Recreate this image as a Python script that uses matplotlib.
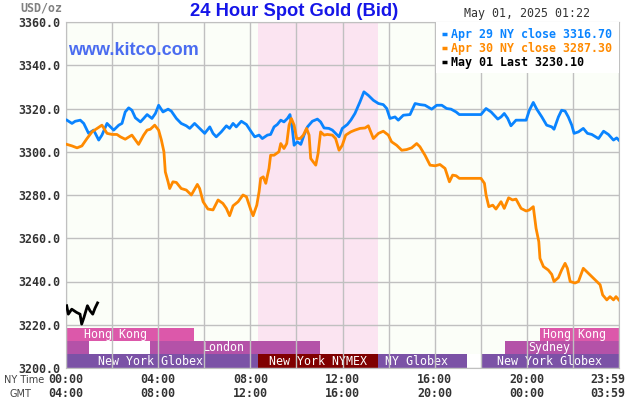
import matplotlib
matplotlib.use("Agg")
import matplotlib.pyplot as plt

# --- data (hours since 00:00 NY time, price in USD/oz) ---
apr29_hours = [0.04, 0.26, 0.40, 0.62, 0.77, 0.98, 1.20, 1.42, 1.56, 1.78, 2.07, 2.29, 2.43, 2.57,
               2.72, 2.86, 3.01, 3.23, 3.37, 3.52, 3.73, 3.88, 4.02, 4.21, 4.43, 4.57, 4.79, 5.00,
               5.22, 5.37, 5.58, 5.80, 6.02, 6.24, 6.38, 6.52, 6.74, 6.96, 7.10, 7.25, 7.39, 7.61,
               7.83, 8.04, 8.19, 8.38, 8.52, 8.74, 8.88, 9.03, 9.17, 9.32, 9.46, 9.61, 9.72, 9.82,
               9.90, 10.04, 10.19, 10.33, 10.48, 10.69, 10.91, 11.05, 11.20, 11.41, 11.56, 11.70,
               11.85, 11.99, 12.21, 12.36, 12.54, 12.76, 12.93, 13.12, 13.34, 13.56, 13.77, 13.92,
               14.06, 14.28, 14.42, 14.64, 14.93, 15.15, 15.36, 15.58, 15.87, 16.09, 16.31, 16.52,
               16.71, 16.93, 17.07, 18.01, 18.23, 18.45, 18.74, 18.88, 19.02, 19.17, 19.31, 19.53,
               19.75, 19.97, 20.11, 20.28, 20.43, 20.65, 20.86, 21.08, 21.18, 21.37, 21.51, 21.66,
               21.80, 21.95, 22.05, 22.24, 22.45, 22.63, 22.82, 23.11, 23.33, 23.54, 23.76, 23.90,
               23.99]
apr29_price = [3314.6, 3313.1, 3314.1, 3314.6, 3313.1, 3308.5, 3310.0, 3305.4, 3307.7, 3313.1,
               3310.0, 3312.3, 3313.1, 3318.4, 3320.3, 3319.2, 3315.7, 3313.8, 3315.4, 3317.2,
               3315.4, 3317.7, 3321.5, 3318.4, 3319.7, 3318.8, 3315.4, 3313.1, 3312.0, 3310.8,
               3313.1, 3310.8, 3308.5, 3311.5, 3308.5, 3306.9, 3309.2, 3312.0, 3310.8, 3313.1,
               3311.5, 3314.1, 3312.6, 3309.2, 3306.9, 3307.7, 3306.1, 3307.7, 3308.0, 3311.5,
               3312.6, 3314.6, 3313.8, 3315.4, 3317.2, 3310.8, 3303.0, 3304.6, 3303.4, 3307.7,
               3311.5, 3314.1, 3315.1, 3313.8, 3311.0, 3310.8, 3310.0, 3308.5, 3306.9, 3310.8,
               3312.6, 3314.6, 3317.7, 3323.1, 3327.7, 3326.1, 3323.8, 3322.3, 3321.8, 3320.0,
               3315.4, 3316.1, 3314.6, 3316.9, 3317.2, 3322.3, 3321.8, 3321.5, 3319.7, 3321.5,
               3321.5, 3320.0, 3319.7, 3318.4, 3317.2, 3317.2, 3320.0, 3318.4, 3315.1, 3316.1,
               3317.7, 3315.4, 3312.0, 3314.6, 3314.6, 3314.6, 3319.2, 3322.8, 3319.7, 3316.1,
               3312.3, 3311.5, 3310.4, 3316.1, 3319.2, 3318.8, 3316.1, 3312.3, 3308.5, 3309.2,
               3310.8, 3308.5, 3308.0, 3306.1, 3309.5, 3308.0, 3305.4, 3306.4, 3305.4]

apr30_hours = [0.04, 0.26, 0.48, 0.69, 0.91, 1.13, 1.35, 1.56, 1.78, 2.00, 2.21, 2.36, 2.57, 2.86,
               3.15, 3.37, 3.52, 3.66, 3.85, 4.02, 4.14, 4.25, 4.31, 4.43, 4.50, 4.64, 4.79, 5.00,
               5.22, 5.44, 5.70, 5.80, 5.95, 6.16, 6.38, 6.60, 6.81, 6.96, 7.10, 7.25, 7.47, 7.68,
               7.83, 8.02, 8.12, 8.28, 8.38, 8.45, 8.56, 8.67, 8.81, 8.88, 9.03, 9.24, 9.32, 9.46,
               9.58, 9.68, 9.78, 9.90, 10.01, 10.16, 10.30, 10.44, 10.55, 10.62, 10.73, 10.84,
               10.94, 11.05, 11.20, 11.34, 11.56, 11.70, 11.85, 11.99, 12.14, 12.36, 12.54, 12.76,
               12.98, 13.12, 13.34, 13.56, 13.77, 13.99, 14.13, 14.35, 14.57, 14.78, 15.00, 15.22,
               15.36, 15.58, 15.80, 16.02, 16.23, 16.45, 16.64, 16.78, 16.93, 17.07, 18.01, 18.16,
               18.23, 18.35, 18.52, 18.66, 18.88, 19.02, 19.21, 19.38, 19.53, 19.75, 19.97, 20.11,
               20.28, 20.40, 20.46, 20.52, 20.57, 20.72, 20.93, 21.08, 21.18, 21.37, 21.51, 21.66,
               21.76, 21.88, 22.09, 22.24, 22.45, 22.67, 22.82, 23.03, 23.18, 23.29, 23.47, 23.61,
               23.76, 23.87, 23.99]
apr30_price = [3303.4, 3302.7, 3301.8, 3302.7, 3306.1, 3309.2, 3310.8, 3312.3, 3308.5, 3308.0,
               3308.0, 3306.9, 3305.8, 3307.7, 3303.4, 3307.7, 3310.0, 3310.4, 3312.3, 3310.0,
               3305.4, 3300.0, 3290.7, 3286.1, 3283.0, 3286.1, 3285.8, 3283.0, 3282.3, 3280.0,
               3284.9, 3283.0, 3276.9, 3273.5, 3273.1, 3277.7, 3276.1, 3273.8, 3270.4, 3275.0,
               3276.9, 3280.0, 3279.2, 3273.1, 3270.4, 3275.3, 3281.5, 3287.7, 3288.4, 3285.4,
               3292.3, 3298.4, 3298.4, 3300.0, 3303.8, 3301.5, 3303.8, 3312.3, 3315.4, 3312.3,
               3306.1, 3306.1, 3307.7, 3310.8, 3307.7, 3296.9, 3295.3, 3293.8, 3299.2, 3309.2,
               3307.7, 3308.0, 3307.7, 3306.1, 3300.7, 3303.0, 3307.7, 3309.2, 3310.0, 3310.8,
               3311.0, 3312.0, 3306.1, 3308.5, 3309.5, 3307.7, 3304.6, 3303.0, 3300.7, 3301.0,
               3301.8, 3303.8, 3302.3, 3298.4, 3293.8, 3293.5, 3294.1, 3292.3, 3286.1, 3289.2,
               3288.9, 3287.7, 3287.7, 3285.4, 3280.0, 3274.6, 3275.3, 3273.5, 3276.9, 3273.8,
               3278.7, 3277.7, 3278.1, 3273.8, 3272.6, 3273.1, 3274.6, 3264.6, 3261.5, 3258.4,
               3250.7, 3246.9, 3245.3, 3243.3, 3240.0, 3241.8, 3245.3, 3248.4, 3246.1, 3240.0,
               3239.3, 3240.0, 3246.1, 3243.8, 3242.3, 3240.0, 3238.5, 3233.8, 3231.5, 3233.0,
               3231.5, 3233.0, 3231.5]

may01_hours = [0.03, 0.10, 0.25, 0.46, 0.61, 0.68, 0.78, 0.93, 1.04, 1.16, 1.26, 1.37]
may01_price = [3228.8, 3224.9, 3227.2, 3225.7, 3224.9, 3220.3, 3223.4, 3228.8, 3226.5, 3224.9,
               3227.7, 3230.1]

legend_labels = ["Apr 29 NY close 3316.70", "Apr 30 NY close 3287.30", "May 01 Last 3230.10"]

# market sessions: name, start hour, end hour, row (0 = bottom)
session_names = ["New York Globex", "New York NYMEX", "NY Globex", "", "New York Globex",
                 "", "", "London", "Sydney",
                 "Hong Kong", "Hong Kong"]
session_start = [0.0, 8.33, 13.54, 17.40, 18.0, 0.0, 1.0, 3.65, 19.05, 0.0, 20.57]
session_end = [8.33, 13.54, 17.40, 18.0, 24.0, 1.0, 3.65, 11.02, 24.0, 5.55, 24.0]
session_row = [0, 0, 0, 0, 0, 1, 1, 1, 1, 2, 2]
session_label_at = [3.65, 10.92, 15.21, 0, 20.99, 0, 0, 6.84, 20.99, 2.13, 22.05]

nymex_open, nymex_close = 8.33, 13.54

ny_ticks = [0, 4, 8, 12, 16, 20, 24]
ny_labels = ["00:00", "04:00", "08:00", "12:00", "16:00", "20:00", "23:59"]
gmt_labels = ["04:00", "08:00", "12:00", "16:00", "20:00", "00:00", "03:59"]
y_ticks = [3200, 3220, 3240, 3260, 3280, 3300, 3320, 3340, 3360]

# --- style ---
mono = "DejaVu Sans Mono"
fs = 8.4
row_colors = {"New York Globex": "#7b52a6", "NY Globex": "#7b52a6", "New York NYMEX": "#800000",
              "London": "#b452a8", "Sydney": "#b452a8", "Hong Kong": "#dc58aa"}
row_bottom = [3200.0, 3206.3, 3212.5]
row_height = [6.3, 6.2, 6.1]

fig = plt.figure(figsize=(6.3, 4.0), dpi=100)
ax = fig.add_axes([66 / 630, 32 / 400, 553 / 630, 346 / 400])
ax.set_facecolor("#fbfef8")
ax.set_xlim(0, 24)
ax.set_ylim(3200, 3360)

ax.axvspan(nymex_open, nymex_close, color="#fbe4f1", zorder=0.2, lw=0)

for name, s, e, r, lx in zip(session_names, session_start, session_end, session_row, session_label_at):
    if name == "":
        # gaps / unlabelled tails
        col = "#b452a8" if (r == 1 and s == 0.0) else "white"
    else:
        col = row_colors[name]
    ax.bar(s, row_height[r], width=e - s, bottom=row_bottom[r], align="edge",
           color=col, lw=0, zorder=0.4)
    if name:
        ax.text(lx, row_bottom[r] + row_height[r] / 2, name, color="white", family=mono,
                fontsize=fs, ha="center", va="center", zorder=0.45)

ax.set_axisbelow(True)
ax.set_xticks(range(0, 25, 2))
ax.set_yticks(y_ticks)
ax.grid(True, color="#c0c0c0", lw=1)
ax.tick_params(length=0, labelbottom=False)
ax.set_yticklabels([f"{v:.1f}" for v in y_ticks], family=mono, fontsize=fs,
                   fontweight="bold", color="#333333")
ax.tick_params(axis="y", pad=4)
for sp in ax.spines.values():
    sp.set_color("#c0c0c0")

ax.plot(apr29_hours, apr29_price, color="#0a84ff", lw=2.0, zorder=3)
ax.plot(apr30_hours, apr30_price, color="#ff8a00", lw=2.0, zorder=3)
ax.plot(may01_hours, may01_price, color="black", lw=2.0, zorder=3)

# x tick labels: NY time and GMT rows
xt = ax.get_xaxis_transform()
for h, a, b in zip(ny_ticks, ny_labels, gmt_labels):
    hx = 23.52 if h == 24 else h
    ax.text(hx, -0.033, a, transform=xt, family=mono, fontsize=fs, fontweight="bold",
            color="#333333", ha="center", va="center")
    ax.text(hx, -0.075, b, transform=xt, family=mono, fontsize=fs, fontweight="bold",
            color="#333333", ha="center", va="center")
fig.text(44 / 630, 1 - 380 / 400, "NY Time", fontsize=7, color="#444444", ha="right", va="center")
fig.text(20.5 / 630, 1 - 394 / 400, "GMT", fontsize=7, color="#444444", ha="center", va="center")
fig.text(62 / 630, 1 - 8 / 400, "USD/oz", family=mono, fontsize=fs, fontweight="bold",
         color="#808080", ha="right", va="center")

# titles
fig.text(294 / 630, 1 - 11 / 400, "24 Hour Spot Gold (Bid)", family="Liberation Sans",
         fontsize=13.2, fontweight="bold", color="#1515e8", ha="center", va="center")
fig.text(527 / 630, 1 - 14 / 400, "May 01, 2025 01:22", family=mono, fontsize=fs,
         color="#333333", ha="center", va="center")
ax.text(0.004, 0.919, "www.kitco.com", transform=ax.transAxes, family="Liberation Sans",
        fontsize=13, fontweight="bold", color="#4a6cf0", ha="left", va="center", zorder=4)

# legend box
ax.add_patch(plt.Rectangle((0.669, 0.853), 0.331, 0.147, transform=ax.transAxes,
                           facecolor="white", edgecolor="none", zorder=4))
legend_colors = ["#0a84ff", "#ff8a00", "black"]
for i, (lab, col) in enumerate(zip(legend_labels, legend_colors)):
    yy = 0.965 - i * 0.0405
    ax.plot([0.680, 0.689], [yy, yy], transform=ax.transAxes, color=col, lw=2.5,
            solid_capstyle="butt", zorder=5, clip_on=False)
    ax.text(0.696, yy, lab, transform=ax.transAxes, family=mono, fontsize=fs,
            fontweight="bold", color=col, ha="left", va="center", zorder=5)

fig.savefig("out.png", dpi=100)
